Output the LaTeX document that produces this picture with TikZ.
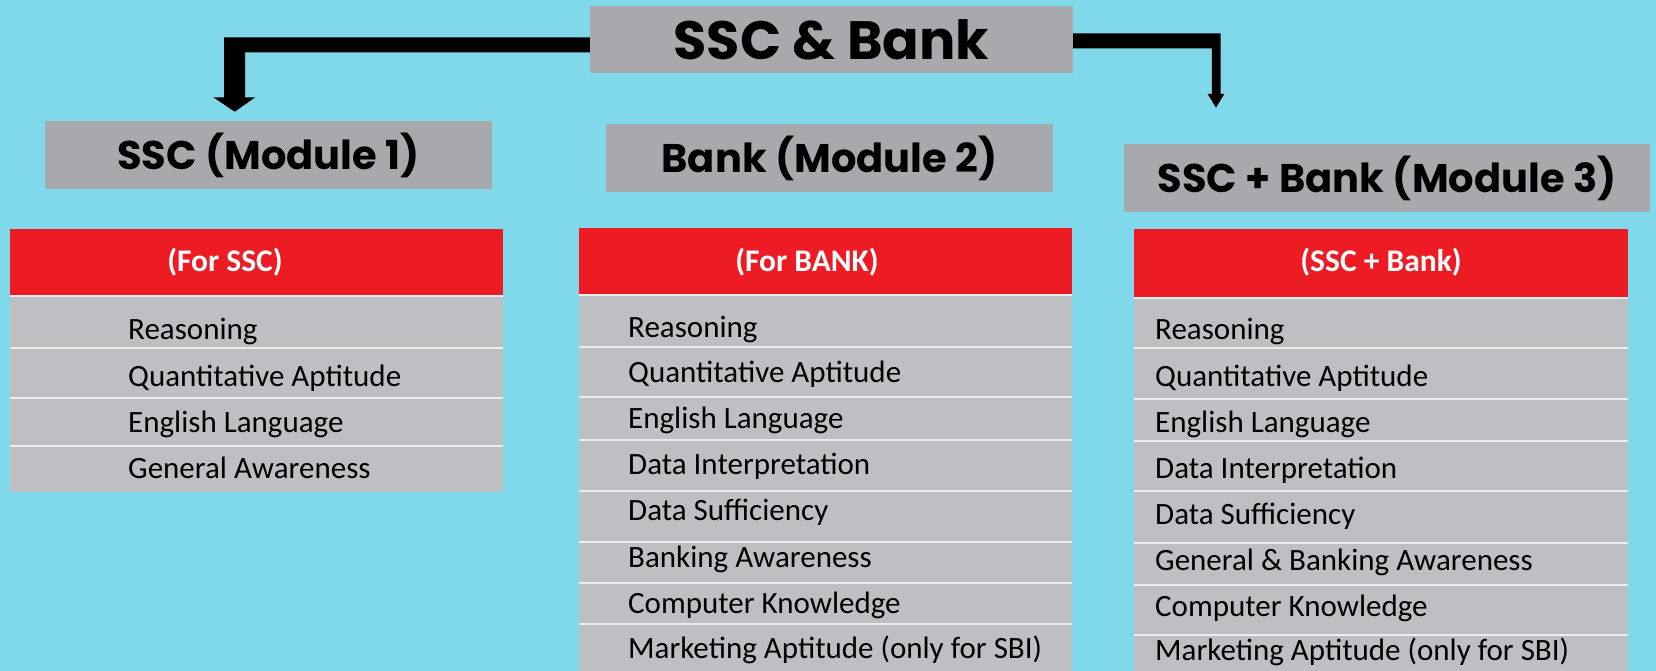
\documentclass[tikz,border=0pt]{standalone}
\usepackage{fontspec}
\setmainfont{Carlito}
\newfontfamily\headfont{Poppins}
\usetikzlibrary{calc}
\definecolor{bgc}{HTML}{7FD9EA}
\definecolor{boxgray}{HTML}{A8A9AD}
\definecolor{rowgray}{HTML}{BEBFC3}
\definecolor{hdred}{HTML}{ED1C24}
\definecolor{sepc}{HTML}{EDEDED}
\tikzset{
  topbox/.style={fill=boxgray, inner sep=0pt, text=black},
  modfont/.style={font=\headfont\bfseries\fontsize{40}{40}\selectfont},
  hdrbox/.style={fill=hdred, inner sep=0pt},
  hdrtext/.style={anchor=base, text=white, inner sep=0pt, font=\bfseries\fontsize{31.5}{31.5}\selectfont},
  bodybox/.style={fill=rowgray, inner sep=0pt},
  item/.style={anchor=base west, inner sep=0pt, text=black, font=\fontsize{31}{31}\selectfont},
  sepline/.style={draw=sepc, line width=1.6pt},
  arrowc/.style={fill=black}
}
\begin{document}
\begin{tikzpicture}[x=1pt,y=-1pt]
\useasboundingbox (0,0) rectangle (1656,671);
\fill[bgc] (0,0) rectangle (1656,671);

% title and module boxes
\node[topbox, minimum width=483pt, minimum height=67pt, font=\headfont\bfseries\fontsize{54}{54}\selectfont] (top) at (831.5,39.5) {SSC \& Bank};
\node[topbox, modfont, minimum width=447pt, minimum height=68pt] (m1) at (268.5,155) {SSC (Module 1)};
\node[topbox, modfont, minimum width=447pt, minimum height=68pt] (m2) at (829.5,158) {Bank (Module 2)};
\node[topbox, modfont, minimum width=526pt, minimum height=68pt] (m3) at (1387,178) {SSC + Bank (Module 3)};

% connectors
\coordinate (tipL) at (234.7,111.7);
\coordinate (tipR) at (1216,107.7);
\fill[arrowc] (top.west |- 0,37.3) -- (224,37.3) -- (224,97.3) -- (213.3,97.3) -- (tipL)
  -- (255.3,97.3) -- (245,97.3) -- (245,52.3) -- (top.west |- 0,52.3) -- cycle;
\fill[arrowc] (top.east |- 0,33.3) -- (1220.7,33.3) -- (1220.7,94) -- (1224.3,94) -- (tipR)
  -- (1207.7,94) -- (1211.9,94) -- (1211.9,48.3) -- (top.east |- 0,48.3) -- cycle;

% table 1
\node[hdrbox, minimum width=493pt, minimum height=66pt] (h1) at (256.5,262) {};
\node[hdrtext] (h1t) at (225,271) {(For SSC)};
\node[bodybox, minimum width=493pt, minimum height=196pt] (b1) at (256.5,394) {};
\foreach \y in {296,348,398,446} \draw[sepline] (b1.west |- 0,\y) -- (b1.east |- 0,\y);
\foreach \t/\y [count=\i] in {Reasoning/339, Quantitative Aptitude/386, English Language/432, General Awareness/478}
  \node[item] (ta\i) at (128,\y) {\t};

% table 2
\node[hdrbox, minimum width=493pt, minimum height=66pt] (h2) at (825.5,261) {};
\node[hdrtext] (h2t) at (807,271) {(For BANK)};
\node[bodybox, minimum width=493pt, minimum height=377pt] (b2) at (825.5,482.5) {};
\foreach \y in {295,347,397,440,491,542,583,624} \draw[sepline] (b2.west |- 0,\y) -- (b2.east |- 0,\y);
\foreach \t/\y [count=\i] in {Reasoning/337, Quantitative Aptitude/382, English Language/428, Data Interpretation/474, Data Sufficiency/520, Banking Awareness/567, Computer Knowledge/613, Marketing Aptitude (only for SBI)/658}
  \node[item] (tb\i) at (628,\y) {\t};

% table 3
\node[hdrbox, minimum width=494pt, minimum height=68pt] (h3) at (1381,263) {};
\node[hdrtext] (h3t) at (1381,271) {(SSC + Bank)};
\node[bodybox, minimum width=494pt, minimum height=374pt] (b3) at (1381,484) {};
\foreach \y in {298,348,399,441,491,543,585,635} \draw[sepline] (b3.west |- 0,\y) -- (b3.east |- 0,\y);
\foreach \t/\y [count=\i] in {Reasoning/339, Quantitative Aptitude/386, English Language/432, Data Interpretation/478, Data Sufficiency/524, General \& Banking Awareness/570, Computer Knowledge/616, Marketing Aptitude (only for SBI)/660}
  \node[item] (tc\i) at (1155,\y) {\t};
\end{tikzpicture}
\end{document}
